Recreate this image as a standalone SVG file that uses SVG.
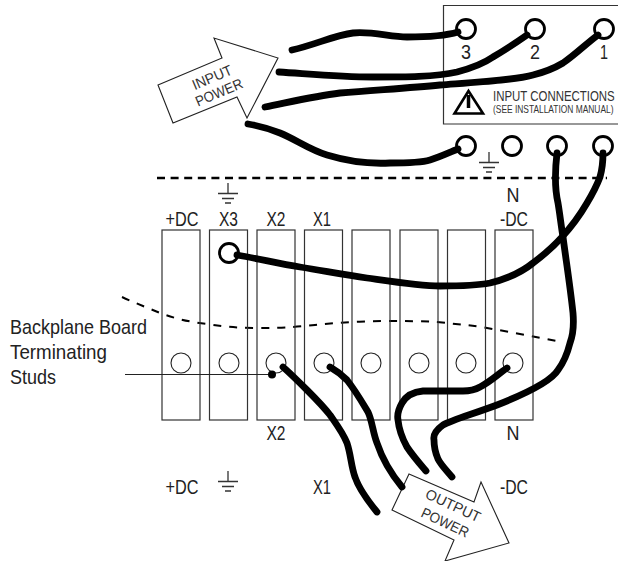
<svg xmlns="http://www.w3.org/2000/svg" width="618" height="561" viewBox="0 0 618 561">
<style>
text{font-family:"Liberation Sans",Arial,sans-serif;fill:#222}
.l{font-size:21px;text-anchor:middle}
.t{font-size:21px}
.s{font-size:14.500px;text-anchor:middle;fill:#333}
.bar{fill:none;stroke:#333;stroke-width:1.2}
.thin{fill:none;stroke:#222;stroke-width:1.1}
.wire{fill:none;stroke:#000;stroke-width:6.800;stroke-linecap:round;stroke-linejoin:round}
.term{fill:none;stroke:#000;stroke-width:2.800}
.stud{fill:none;stroke:#222;stroke-width:1.1}
.dash{fill:none;stroke:#000}
.gnd{fill:none;stroke:#333;stroke-width:1.3}
</style>
<defs>
<g id="ground">
<path class="gnd" d="M0 0V10.500M-10 10.500H10M-6 15.500H6M-3 20H3"/>
</g>
</defs>
<g id="input-box">
<path class="bar" d="M618 5.500H443.500V124H618"/>
<text class="l" x="466" y="59" textLength="10" lengthAdjust="spacingAndGlyphs">3</text>
<text class="l" x="535" y="59" textLength="10" lengthAdjust="spacingAndGlyphs">2</text>
<text class="l" x="604" y="59" textLength="8" lengthAdjust="spacingAndGlyphs">1</text>
<path d="M468.500 91L454.500 113.500H483Z" fill="none" stroke="#000" stroke-width="2.600" stroke-linejoin="miter"/>
<path d="M468.500 95V108" stroke="#000" stroke-width="3.500" fill="none"/>
<text transform="translate(493 101) scale(.789 1)" font-size="14.500" style="fill:#333">INPUT CONNECTIONS</text>
<text transform="translate(493 113) scale(.8 1)" font-size="10.500" style="fill:#333">(SEE INSTALLATION MANUAL)</text>
</g>
<g id="input-arrow">
<path class="thin" fill="#fff" d="M158 85L222 58L214 38L278 58L247 118L237 97L173 123Z"/>
<text class="s" transform="translate(214 82) rotate(-23)" textLength="42" lengthAdjust="spacingAndGlyphs">INPUT</text>
<text class="s" transform="translate(221 97) rotate(-23)" textLength="50" lengthAdjust="spacingAndGlyphs">POWER</text>
</g>
<g id="top-terminals">
<circle class="term" cx="466" cy="29" r="9.500"/>
<circle class="term" cx="535" cy="29" r="9.500"/>
<circle class="term" cx="604" cy="29" r="9.500"/>
<circle class="term" cx="466" cy="146" r="9.500"/>
<circle class="term" cx="512" cy="146" r="9.500"/>
<circle class="term" cx="557" cy="146" r="9.500"/>
<circle class="term" cx="603" cy="146" r="9.500"/>
<use href="#ground" x="489" y="152"/>
</g>
<path id="divider" class="dash" stroke-width="2.400" stroke-dasharray="8 5.600" d="M157 178H607"/>
<g id="curve-divider">
<path class="dash" stroke-width="2" stroke-dasharray="8 8" d="M122 297C135 303 148 308 160 313C176 319 190 322 207 324C225 327 240 328 257 328C270 328 282 328 293 327C308 326 322 324 337 323C352 322 368 321 383 321C402 321 420 321 437 322C455 324 470 325 487 328C510 332 535 337 557 341"/>
</g>
<g id="bar-1"><rect class="bar" x="162" y="230" width="38" height="190"/><circle class="stud" cx="181" cy="363" r="10"/></g>
<g id="bar-2"><rect class="bar" x="209.500" y="230" width="38" height="190"/><circle class="stud" cx="229" cy="363" r="10"/><circle class="term" cx="229" cy="253" r="9.500"/></g>
<g id="bar-3"><rect class="bar" x="257" y="230" width="38" height="190"/><circle class="stud" cx="276" cy="363" r="10"/></g>
<g id="bar-4"><rect class="bar" x="304.500" y="230" width="38" height="190"/><circle class="stud" cx="324" cy="363" r="10"/></g>
<g id="bar-5"><rect class="bar" x="352" y="230" width="38" height="190"/><circle class="stud" cx="371" cy="363" r="10"/></g>
<g id="bar-6"><rect class="bar" x="400" y="230" width="38" height="190"/><circle class="stud" cx="419" cy="363" r="10"/></g>
<g id="bar-7"><rect class="bar" x="447.500" y="230" width="38" height="190"/><circle class="stud" cx="466" cy="363" r="10"/></g>
<g id="bar-8"><rect class="bar" x="495" y="230" width="38" height="190"/><circle class="stud" cx="513" cy="363" r="10"/></g>
<g id="labels">
<use href="#ground" x="228" y="183"/>
<use href="#ground" x="228" y="471"/>
<text class="l" x="182" y="226" textLength="33" lengthAdjust="spacingAndGlyphs">+DC</text>
<text class="l" x="228.500" y="226" textLength="19" lengthAdjust="spacingAndGlyphs">X3</text>
<text class="l" x="276" y="226" textLength="19" lengthAdjust="spacingAndGlyphs">X2</text>
<text class="l" x="322" y="226" textLength="18" lengthAdjust="spacingAndGlyphs">X1</text>
<text class="l" x="514" y="226" textLength="28" lengthAdjust="spacingAndGlyphs">-DC</text>
<text class="l" x="513" y="202" textLength="13" lengthAdjust="spacingAndGlyphs">N</text>
<text class="l" x="276" y="440" textLength="19" lengthAdjust="spacingAndGlyphs">X2</text>
<text class="l" x="513" y="440" textLength="13" lengthAdjust="spacingAndGlyphs">N</text>
<text class="l" x="182" y="494" textLength="33" lengthAdjust="spacingAndGlyphs">+DC</text>
<text class="l" x="322" y="494" textLength="18" lengthAdjust="spacingAndGlyphs">X1</text>
<text class="l" x="514" y="494" textLength="28" lengthAdjust="spacingAndGlyphs">-DC</text>
<text class="t" x="10" y="334" textLength="137" lengthAdjust="spacingAndGlyphs">Backplane Board</text>
<text class="t" x="10" y="359" textLength="97" lengthAdjust="spacingAndGlyphs">Terminating</text>
<text class="t" x="10" y="384" textLength="46" lengthAdjust="spacingAndGlyphs">Studs</text>
</g>
<g id="output-arrow">
<path class="thin" fill="#fff" d="M409 474L474 502L481 482L509 543L445 561L454 540L392 510Z"/>
<text class="s" transform="translate(451 510) rotate(25)" textLength="59" lengthAdjust="spacingAndGlyphs">OUTPUT</text>
<text class="s" transform="translate(443 527) rotate(25)" textLength="51" lengthAdjust="spacingAndGlyphs">POWER</text>
</g>
<g id="leader">
<path class="thin" d="M125 374.500H272"/>
<circle cx="272" cy="374.500" r="4" fill="#000"/>
</g>
<g id="connectors">
<path class="wire" d="M292 50C315 45 335 35 353 33C372 31 390 37 407 37C425 37 445 36 458 32"/>
<path class="wire" d="M279 72C310 74 340 77 373 77C405 77 435 77 457 72C472 68 483 64 493 57C505 50 517 42 527 35"/>
<path class="wire" d="M265 107C290 102 315 96 340 93C375 90 410 88 440 85C480 82 515 80 533 75C545 72 553 69 563 63C575 55 587 43 598 35"/>
<path class="wire" d="M248 124C260 126 270 129 280 133C295 139 310 150 327 155C350 162 372 164 390 163C405 163 420 163 430 160C440 157 450 152 458 149"/>
<path class="wire" d="M557 153C555 170 555 190 558 203C560 215 561 225 563 237C566 260 570 285 573 313C574 325 573 335 570 343C567 355 564 362 558 370C552 380 530 392 497 405C470 415 452 420 443 425C436 430 433 435 434 440C434 447 435 452 438 459C441 465 447 471 452 477"/>
<path class="wire" d="M237 255C260 259 280 264 300 267C325 271 345 275 367 278C395 282 420 286 440 286C460 286 475 286 490 283C510 278 522 272 533 263C545 254 553 247 562 237C572 226 580 215 587 203C593 193 597 185 600 177C602 170 603 160 603 153"/>
<path class="wire" d="M507 368C497 375 490 382 480 387C473 391 468 391 463 391L423 391C412 392 406 396 402 403C398 410 397 415 398 420C399 430 402 438 407 447C413 456 420 464 426 471"/>
<path class="wire" d="M283 367C292 375 300 383 307 390C316 399 323 406 330 415C337 425 343 433 347 443C351 455 351 466 355 477C359 489 368 501 377 512"/>
<path class="wire" d="M330 367C337 371 342 375 347 380C355 390 362 402 368 412C372 420 373 433 377 443C382 458 392 475 402 487"/>
</g>
</svg>
